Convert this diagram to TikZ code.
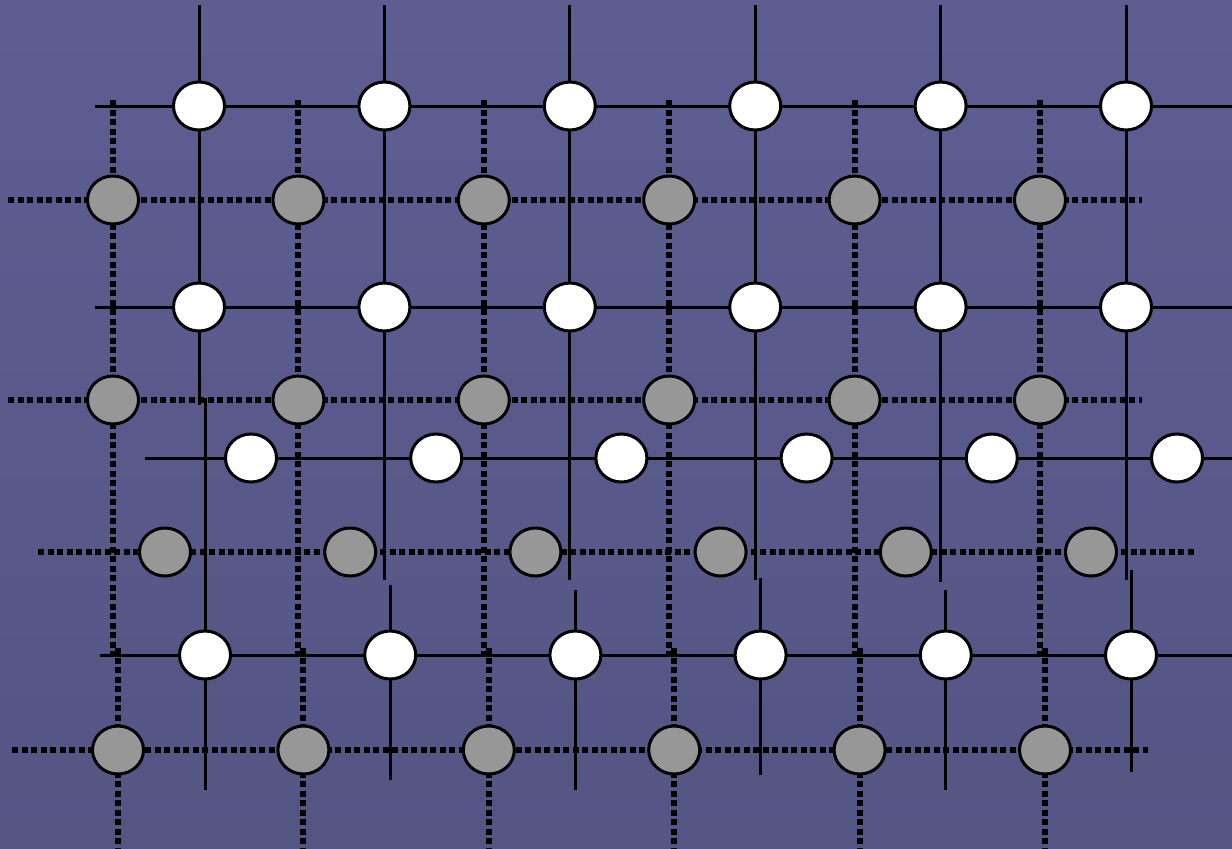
\documentclass[tikz,border=0pt]{standalone}
\usepackage{xcolor}
\definecolor{slateTop}{HTML}{5D5D92}
\definecolor{slateBottom}{HTML}{555584}
\definecolor{siteGray}{HTML}{979797}
\usetikzlibrary{shapes.geometric}
\pgfdeclarelayer{backdrop}
\pgfdeclarelayer{wires}
\pgfsetlayers{backdrop,wires,main}

\begin{document}
\begin{tikzpicture}[
    x=1pt, y=-1pt,
    whiteSite/.style={
        ellipse,
        draw=black,
        fill=white,
        line width=3pt,
        minimum width=51pt,
        minimum height=48pt,
        inner sep=0pt
    },
    graySite/.style={
        whiteSite,
        fill=siteGray
    },
    solidLine/.style={
        draw=black,
        line width=3pt
    },
    dottedLine/.style={
        draw=black,
        line width=6pt,
        dash pattern=on 6pt off 3.5pt
    }
]

\useasboundingbox (0,0) rectangle (1232,849);

% Background
\begin{pgfonlayer}{backdrop}
\fill[top color=slateTop, bottom color=slateBottom] (0,0) rectangle (1232,849);
\end{pgfonlayer}

% White sites
\foreach \c in {1,...,6} {
    \node[whiteSite] (w1\c) at ({199+185.4*(\c-1)},106) {};
    \node[whiteSite] (w2\c) at ({199+185.4*(\c-1)},307) {};
    \node[whiteSite] (w3\c) at ({251+185.2*(\c-1)},458) {};
    \node[whiteSite] (w4\c) at ({205+185.2*(\c-1)},655) {};
}

% Gray sites
\foreach \c in {1,...,6} {
    \node[graySite] (g1\c) at ({113+185.4*(\c-1)},200) {};
    \node[graySite] (g2\c) at ({113+185.4*(\c-1)},400) {};
    \node[graySite] (g3\c) at ({165+185.2*(\c-1)},552) {};
    \node[graySite] (g4\c) at ({118+185.4*(\c-1)},750) {};
}

% Free ends of the rows
\foreach \r/\wl/\gl/\gr in {1/95/8/1142, 2/95/8/1142, 3/145/38/1195, 4/100/12/1148} {
    \coordinate (wl\r) at (\wl,0 |- w\r1);
    \coordinate (wr\r) at (1232,0 |- w\r1);
    \coordinate (gl\r) at (\gl,0 |- g\r1);
    \coordinate (gr\r) at (\gr,0 |- g\r1);
}

% Free ends of the columns
\foreach \c/\ub/\ls/\le in {1/405/398/790, 2/580/585/780, 3/580/590/790,
                           4/580/578/775, 5/582/590/790, 6/580/570/772} {
    \coordinate (wt\c) at (w1\c |- 0,5);
    \coordinate (wb\c) at (w1\c |- 0,\ub);
    \coordinate (ls\c) at (w4\c |- 0,\ls);
    \coordinate (le\c) at (w4\c |- 0,\le);
    \coordinate (gt\c) at (g1\c |- 0,100);
    \coordinate (gb\c) at (g1\c |- 0,655);
    \coordinate (hs\c) at (g4\c |- 0,648);
    \coordinate (he\c) at (g4\c |- 0,849);
}

\begin{pgfonlayer}{wires}
% Solid lattice
\foreach \r in {1,...,4}
    \draw[solidLine] (wl\r) -- (w\r1.center) -- (w\r6.center) -- (wr\r);
\foreach \c in {1,...,6} {
    \draw[solidLine] (wt\c) -- (w1\c.center) -- (w2\c.center) -- (wb\c);
    \draw[solidLine] (ls\c) -- (w4\c.center) -- (le\c);
}

% Dotted lattice
\foreach \r in {1,...,4}
    \draw[dottedLine] (gl\r) -- (g\r1.center) -- (g\r6.center) -- (gr\r);
\foreach \c in {1,...,6} {
    \draw[dottedLine] (gt\c) -- (g1\c.center) -- (g2\c.center) -- (gb\c);
    \draw[dottedLine] (hs\c) -- (g4\c.center) -- (he\c);
}
\end{pgfonlayer}

\end{tikzpicture}
\end{document}
